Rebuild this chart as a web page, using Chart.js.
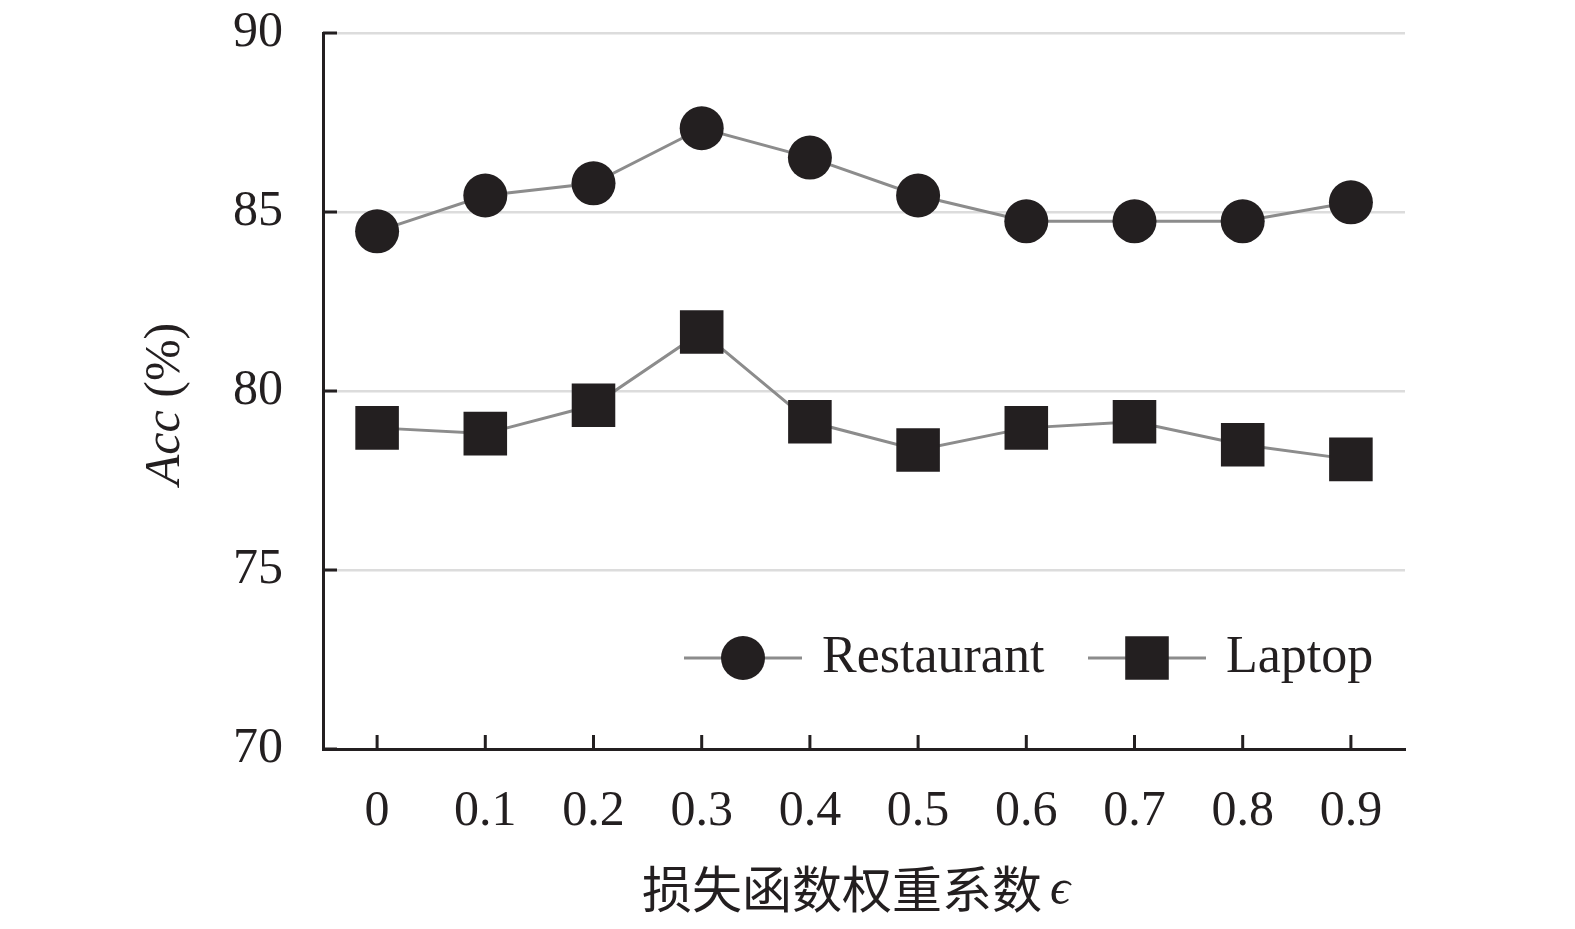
<!DOCTYPE html>
<html><head><meta charset="utf-8">
<script src="https://cdn.jsdelivr.net/npm/chart.js@4.4.0/dist/chart.umd.min.js"></script>
<style>html,body{margin:0;padding:0;background:#fff;overflow:hidden}#wrap{width:1575px;height:929px;position:relative}</style>
</head><body><div id="wrap"><canvas id="c"></canvas></div>
<script>
const categories = ['0','0.1','0.2','0.3','0.4','0.5','0.6','0.7','0.8','0.9'];
const restaurant = [84.46,85.46,85.80,87.34,86.52,85.46,84.74,84.74,84.74,85.27];
const laptop = [78.97,78.81,79.60,81.65,79.14,78.35,78.97,79.14,78.50,78.09];
const yTicks = [70,75,80,85,90];
const seriesNames = ['Restaurant','Laptop'];
const xTitleText = '损失函数权重系数';
const xTitleSymbol = 'ϵ';
const yTitleItalic = 'Acc';
const yTitleRest = ' (%)';

const INK = '#231f20';
const SERIF = "'Liberation Serif','Times New Roman',serif";
const CJK = "'Noto Sans CJK SC','Noto Sans CJK JP',sans-serif";

const decor = {
  id:'decor',
  afterDraw(chart){
    const ctx = chart.ctx, a = chart.chartArea;
    const xs = chart.scales.x, ys = chart.scales.y;
    ctx.save();
    // inward tick marks
    ctx.strokeStyle = INK; ctx.lineWidth = 3;
    ys.ticks.forEach((t)=>{
      const y = ys.getPixelForValue(t.value);
      ctx.beginPath(); ctx.moveTo(a.left, y); ctx.lineTo(a.left+14, y); ctx.stroke();
    });
    categories.forEach((c,i)=>{
      const x = xs.getPixelForValue(i);
      ctx.beginPath(); ctx.moveTo(x, a.bottom); ctx.lineTo(x, a.bottom-14); ctx.stroke();
    });
    // y title
    ctx.fillStyle = INK; ctx.textBaseline = 'middle';
    ctx.save();
    ctx.translate(166, 404); ctx.rotate(-Math.PI/2);
    ctx.font = 'italic 50px ' + SERIF;
    const w1 = ctx.measureText(yTitleItalic).width;
    ctx.font = '50px ' + SERIF;
    const w2 = ctx.measureText(yTitleRest).width;
    let sx = -(w1+w2)/2;
    ctx.textAlign = 'left';
    ctx.font = 'italic 50px ' + SERIF; ctx.fillText(yTitleItalic, sx, 0);
    ctx.font = '50px ' + SERIF; ctx.fillText(yTitleRest, sx+w1, 0);
    ctx.restore();
    // x title
    ctx.textAlign = 'left';
    ctx.font = '50px ' + CJK;
    const c1 = ctx.measureText(xTitleText).width;
    ctx.font = 'italic 50px ' + SERIF;
    const c2 = ctx.measureText(xTitleSymbol).width;
    const gap = 8;
    let tx = 856 - (c1+gap+c2)/2;
    ctx.font = '50px ' + CJK; ctx.fillText(xTitleText, tx, 889);
    ctx.font = 'italic 50px ' + SERIF; ctx.fillText(xTitleSymbol, tx+c1+gap, 891);
    // legend
    const items = [{x0:684,x1:802,tx:822},{x0:1088,x1:1206,tx:1226}];
    const ly = 658;
    chart.data.datasets.forEach((ds,i)=>{
      const it = items[i];
      ctx.strokeStyle = ds.borderColor; ctx.lineWidth = ds.borderWidth;
      ctx.beginPath(); ctx.moveTo(it.x0, ly); ctx.lineTo(it.x1, ly); ctx.stroke();
      ctx.fillStyle = ds.pointBackgroundColor;
      Chart.helpers.drawPoint(ctx, {pointStyle: ds.pointStyle, radius: ds.pointRadius, borderWidth: 0, rotation: 0}, (it.x0+it.x1)/2, ly);
      ctx.fillStyle = INK; ctx.font = '52px ' + SERIF; ctx.textBaseline = 'middle';
      ctx.fillText(ds.label, it.tx, ly);
    });
    ctx.restore();
  }
};

new Chart(document.getElementById('c'), {
  type:'line',
  data:{
    labels: categories,
    datasets:[
      {label: seriesNames[0], data: restaurant, borderColor:'#8c8c8c', borderWidth:3, tension:0,
       pointStyle:'circle', pointRadius:22, pointHoverRadius:22, pointBackgroundColor:INK, pointBorderWidth:0},
      {label: seriesNames[1], data: laptop, borderColor:'#8c8c8c', borderWidth:3, tension:0,
       pointStyle:'rect', pointRadius:30.8, pointHoverRadius:30.8, pointBackgroundColor:INK, pointBorderWidth:0}
    ]
  },
  options:{
    responsive:true, maintainAspectRatio:false, animation:false,
    events:[],
    layout:{padding:{top:33,right:170,left:0,bottom:0}},
    plugins:{legend:{display:false}, tooltip:{enabled:false}},
    scales:{
      x:{type:'category', offset:true,
        grid:{display:false, drawTicks:false},
        border:{display:true, color:INK, width:3},
        ticks:{color:INK, font:{family:SERIF, size:50}, padding:33, maxRotation:0, autoSkip:false},
        afterFit(s){ s.height = 180; s.paddingLeft = 0; s.paddingRight = 0; }
      },
      y:{min:70, max:90,
        afterBuildTicks(s){ s.ticks = yTicks.map(v=>({value:v})); },
        grid:{color:'#dcdcdc', lineWidth:2.5, drawTicks:false},
        border:{display:true, color:INK, width:3},
        ticks:{color:INK, font:{family:SERIF, size:50}, padding:40},
        afterFit(s){ s.width = 323; s.paddingTop = 0; s.paddingBottom = 0; }
      }
    }
  },
  plugins:[decor]
});
</script></body></html>
